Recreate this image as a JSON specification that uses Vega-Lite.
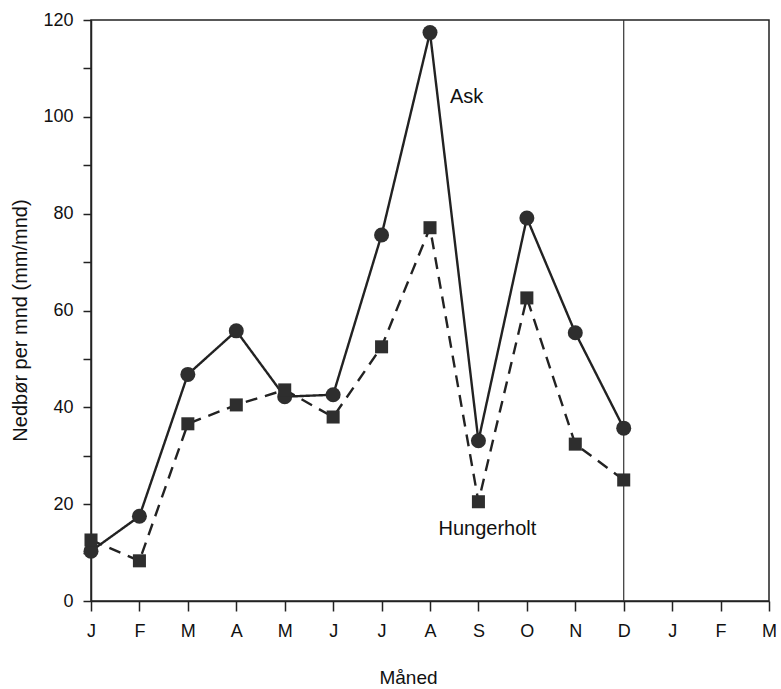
{
  "$schema": "https://vega.github.io/schema/vega-lite/v6.json",
  "width": 678,
  "height": 581,
  "autosize": "none",
  "padding": {"left": 91, "top": 20, "right": 12, "bottom": 88},
  "background": "white",
  "config": {
    "font": "Liberation Sans",
    "view": {"stroke": "#222", "strokeWidth": 1.5},
    "axis": {
      "domainColor": "#222",
      "domainWidth": 1.5,
      "tickColor": "#222",
      "tickWidth": 1.5,
      "labelColor": "#111",
      "labelFont": "Liberation Sans",
      "labelFontSize": 18,
      "titleColor": "#111",
      "titleFont": "Liberation Sans",
      "titleFontWeight": "normal",
      "grid": false
    }
  },
  "data": {
    "values": [
      {"series": "Ask", "i": 0, "v": 10.3},
      {"series": "Ask", "i": 1, "v": 17.5},
      {"series": "Ask", "i": 2, "v": 46.8},
      {"series": "Ask", "i": 3, "v": 55.8},
      {"series": "Ask", "i": 4, "v": 42.2},
      {"series": "Ask", "i": 5, "v": 42.6},
      {"series": "Ask", "i": 6, "v": 75.6},
      {"series": "Ask", "i": 7, "v": 117.4},
      {"series": "Ask", "i": 8, "v": 33.1},
      {"series": "Ask", "i": 9, "v": 79.1},
      {"series": "Ask", "i": 10, "v": 55.4},
      {"series": "Ask", "i": 11, "v": 35.7},
      {"series": "Hungerholt", "i": 0, "v": 12.6},
      {"series": "Hungerholt", "i": 1, "v": 8.3},
      {"series": "Hungerholt", "i": 2, "v": 36.6},
      {"series": "Hungerholt", "i": 3, "v": 40.5},
      {"series": "Hungerholt", "i": 4, "v": 43.6},
      {"series": "Hungerholt", "i": 5, "v": 38.0},
      {"series": "Hungerholt", "i": 6, "v": 52.5},
      {"series": "Hungerholt", "i": 7, "v": 77.1},
      {"series": "Hungerholt", "i": 8, "v": 20.5},
      {"series": "Hungerholt", "i": 9, "v": 62.6},
      {"series": "Hungerholt", "i": 10, "v": 32.4},
      {"series": "Hungerholt", "i": 11, "v": 25.0}
    ]
  },
  "layer": [
    {
      "data": {"values": [{"i": 11}]},
      "mark": {"type": "rule", "color": "#333", "strokeWidth": 1.2},
      "encoding": {
        "x": {"field": "i", "type": "quantitative", "scale": {"domain": [0, 14], "nice": false}}
      }
    },
    {
      "mark": {"type": "line", "color": "#222", "strokeWidth": 2.4},
      "encoding": {
        "x": {
          "field": "i",
          "type": "quantitative",
          "scale": {"domain": [0, 14], "nice": false},
          "axis": {
            "values": [0, 1, 2, 3, 4, 5, 6, 7, 8, 9, 10, 11, 12, 13, 14],
            "labelExpr": "['J','F','M','A','M','J','J','A','S','O','N','D','J','F','M'][datum.value]",
            "tickSize": 10,
            "labelPadding": 11,
            "labelFlush": false,
            "labelOverlap": false,
            "title": "Måned",
            "titleFontSize": 19,
            "titleX": 317,
            "titleY": 82,
            "titleAlign": "center",
            "titleBaseline": "alphabetic"
          }
        },
        "y": {
          "field": "v",
          "type": "quantitative",
          "scale": {"domain": [0, 120], "nice": false},
          "axis": {
            "values": [0, 10, 20, 30, 40, 50, 60, 70, 80, 90, 100, 110, 120],
            "labelExpr": "datum.value % 20 == 0 ? datum.label : ''",
            "tickSize": 8,
            "labelPadding": 10,
            "labelFlush": false,
            "labelOverlap": false,
            "title": "Nedbør per mnd (mm/mnd)",
            "titleFontSize": 20,
            "titleX": -71,
            "titleY": 300,
            "titleAngle": 270,
            "titleAlign": "center",
            "titleBaseline": "middle"
          }
        },
        "strokeDash": {
          "field": "series",
          "type": "nominal",
          "scale": {"domain": ["Ask", "Hungerholt"], "range": [[1, 0], [12, 8]]},
          "legend": null
        }
      }
    },
    {
      "mark": {"type": "point", "filled": true, "color": "#2e2e2e", "opacity": 1},
      "encoding": {
        "x": {"field": "i", "type": "quantitative"},
        "y": {"field": "v", "type": "quantitative"},
        "shape": {
          "field": "series",
          "type": "nominal",
          "scale": {"domain": ["Ask", "Hungerholt"], "range": ["circle", "square"]},
          "legend": null
        },
        "size": {
          "field": "series",
          "type": "nominal",
          "scale": {"domain": ["Ask", "Hungerholt"], "range": [225, 170]},
          "legend": null
        }
      }
    },
    {
      "transform": [{"filter": "datum.series == 'Ask' && datum.i == 7"}],
      "mark": {"type": "text", "align": "left", "baseline": "alphabetic", "dx": 20, "dy": 70, "fontSize": 20, "color": "#111", "font": "Liberation Sans"},
      "encoding": {
        "x": {"field": "i", "type": "quantitative"},
        "y": {"field": "v", "type": "quantitative"},
        "text": {"field": "series"}
      }
    },
    {
      "transform": [{"filter": "datum.series == 'Hungerholt' && datum.i == 8"}],
      "mark": {"type": "text", "align": "center", "baseline": "alphabetic", "dx": 9, "dy": 33, "fontSize": 20, "color": "#111", "font": "Liberation Sans"},
      "encoding": {
        "x": {"field": "i", "type": "quantitative"},
        "y": {"field": "v", "type": "quantitative"},
        "text": {"field": "series"}
      }
    }
  ]
}
